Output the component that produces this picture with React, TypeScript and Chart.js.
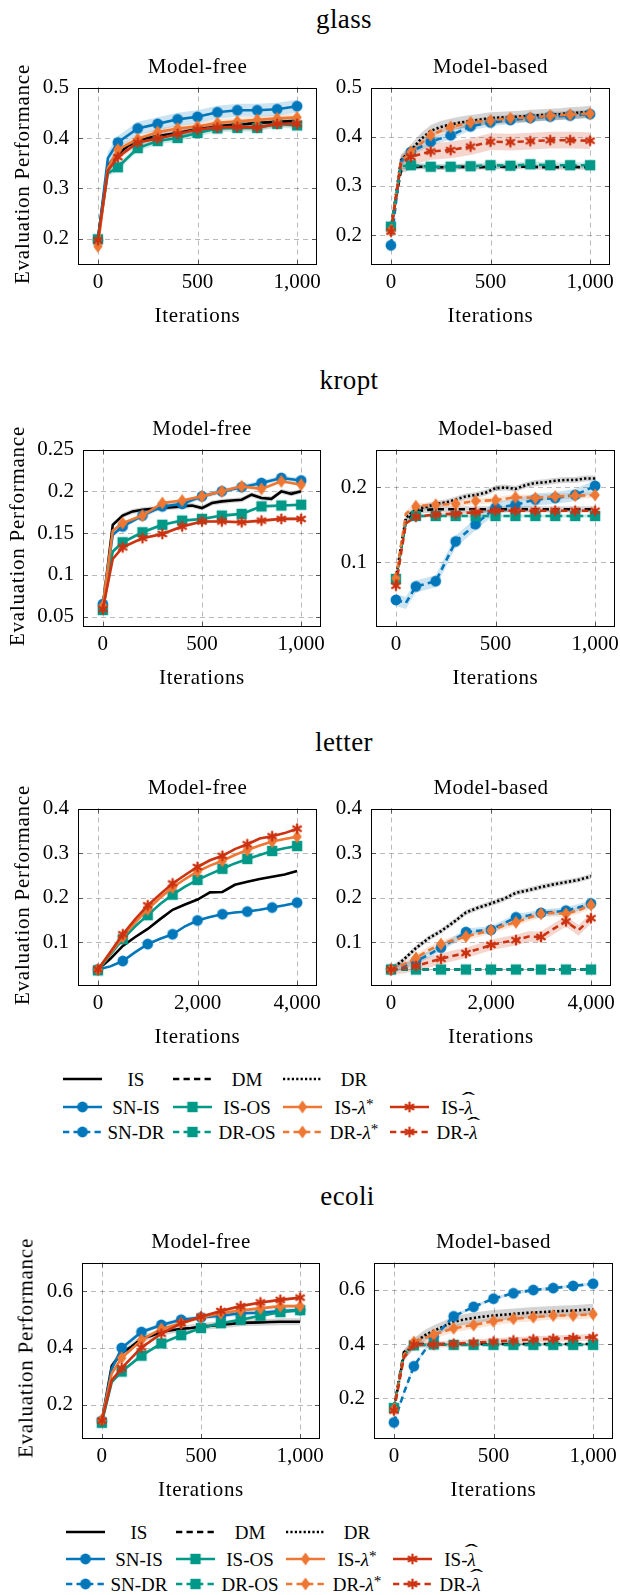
import React, { useEffect, useRef } from 'react';
import { Chart, registerables } from 'chart.js';

Chart.register(...registerables);

const FONT = "'Liberation Serif', 'DejaVu Serif', 'Times New Roman', serif";
Chart.defaults.font.family = FONT;
Chart.defaults.color = '#000';

// ---------------- text ----------------
const DATASET_NAMES = ['glass', 'kropt', 'letter', 'ecoli'];
const PANEL_TITLES = ['Model-free', 'Model-based'];
const X_TITLE = 'Iterations';
const Y_TITLE = 'Evaluation Performance';

// ---------------- x grids ----------------
const X_LINE_1K = [0, 50, 100, 150, 200, 250, 300, 350, 400, 450, 500, 550, 600, 650, 700, 750, 800, 850, 900, 950, 1000];
const X_MARK_1K = [0, 50, 100, 200, 300, 400, 500, 600, 700, 800, 900, 1000];
const X_4K = [0, 250, 500, 750, 1000, 1250, 1500, 1750, 2000, 2250, 2500, 2750, 3000, 3250, 3500, 3750, 4000];

const X_TICKS_1K = [0, 500, 1000];
const X_TICKS_4K = [0, 2000, 4000];

const Y_TICKS_GLASS = [0.2, 0.3, 0.4, 0.5];
const Y_TICKS_KROPT_MF = [0.05, 0.1, 0.15, 0.2, 0.25];
const Y_TICKS_KROPT_MB = [0.1, 0.2];
const Y_TICKS_LETTER = [0.1, 0.2, 0.3, 0.4];
const Y_TICKS_ECOLI = [0.2, 0.4, 0.6];

// ---------------- glass ----------------
const GLASS_MF_IS = [0.200, 0.345, 0.368, 0.384, 0.395, 0.400, 0.404, 0.407, 0.410, 0.414, 0.418, 0.420, 0.423, 0.425, 0.427, 0.428, 0.430, 0.431, 0.432, 0.433, 0.434];
const GLASS_MF_SNIS = [0.197, 0.360, 0.391, 0.419, 0.428, 0.437, 0.442, 0.451, 0.455, 0.455, 0.457, 0.463];
const GLASS_MF_ISOS = [0.199, 0.330, 0.342, 0.380, 0.394, 0.400, 0.410, 0.419, 0.420, 0.420, 0.428, 0.425];
const GLASS_MF_ISLS = [0.185, 0.340, 0.377, 0.398, 0.412, 0.419, 0.423, 0.430, 0.433, 0.436, 0.439, 0.441];
const GLASS_MF_ISLH = [0.197, 0.335, 0.362, 0.391, 0.399, 0.408, 0.417, 0.421, 0.422, 0.421, 0.428, 0.428];
const GLASS_MF_SD = [0.007, 0.013, 0.007, 0.007, 0.006];

const GLASS_MB_DM = [0.215, 0.330, 0.338, 0.339, 0.338, 0.338, 0.338, 0.339, 0.338, 0.338, 0.339, 0.339, 0.338, 0.339, 0.339, 0.338, 0.338, 0.338, 0.339, 0.338, 0.338];
const GLASS_MB_DR = [0.210, 0.352, 0.372, 0.395, 0.412, 0.420, 0.425, 0.429, 0.432, 0.435, 0.438, 0.439, 0.440, 0.441, 0.443, 0.444, 0.445, 0.446, 0.448, 0.449, 0.451];
const GLASS_MB_SNDR = [0.179, 0.350, 0.369, 0.390, 0.403, 0.421, 0.429, 0.434, 0.438, 0.441, 0.443, 0.446];
const GLASS_MB_DROS = [0.217, 0.340, 0.342, 0.339, 0.339, 0.340, 0.342, 0.341, 0.344, 0.342, 0.342, 0.342];
const GLASS_MB_DRLS = [0.209, 0.350, 0.369, 0.403, 0.420, 0.429, 0.433, 0.438, 0.439, 0.443, 0.445, 0.447];
const GLASS_MB_DRLH = [0.207, 0.345, 0.359, 0.370, 0.373, 0.380, 0.390, 0.389, 0.391, 0.393, 0.393, 0.392];
const GLASS_MB_SD = [0.005, 0.012, 0.008, 0.006, 0.008, 0.017];

// ---------------- kropt ----------------
const KROPT_MF_IS = [0.062, 0.160, 0.171, 0.176, 0.178, 0.179, 0.180, 0.181, 0.182, 0.183, 0.180, 0.186, 0.188, 0.189, 0.190, 0.196, 0.192, 0.191, 0.200, 0.197, 0.200];
const KROPT_MF_SNIS = [0.065, 0.148, 0.158, 0.171, 0.182, 0.185, 0.194, 0.200, 0.205, 0.210, 0.216, 0.213];
const KROPT_MF_ISOS = [0.058, 0.128, 0.139, 0.151, 0.160, 0.165, 0.167, 0.171, 0.173, 0.182, 0.183, 0.184];
const KROPT_MF_ISLS = [0.063, 0.153, 0.162, 0.171, 0.186, 0.189, 0.194, 0.200, 0.206, 0.203, 0.212, 0.208];
const KROPT_MF_ISLH = [0.059, 0.119, 0.133, 0.144, 0.149, 0.158, 0.164, 0.164, 0.163, 0.165, 0.167, 0.167];
const KROPT_MF_SD = [0.003, 0.003, 0.002, 0.002, 0.002];

const KROPT_MB_DM = [0.078, 0.155, 0.168, 0.170, 0.171, 0.171, 0.171, 0.171, 0.171, 0.171, 0.171, 0.171, 0.171, 0.171, 0.171, 0.171, 0.171, 0.171, 0.171, 0.171, 0.171];
const KROPT_MB_DR = [0.080, 0.160, 0.171, 0.174, 0.178, 0.180, 0.184, 0.188, 0.190, 0.193, 0.199, 0.200, 0.198, 0.203, 0.206, 0.207, 0.209, 0.210, 0.210, 0.212, 0.212];
const KROPT_MB_SNDR = [0.050, 0.046, 0.068, 0.075, 0.128, 0.151, 0.173, 0.177, 0.184, 0.186, 0.190, 0.202];
const KROPT_MB_DROS = [0.078, 0.155, 0.162, 0.162, 0.162, 0.162, 0.162, 0.162, 0.162, 0.162, 0.162, 0.162];
const KROPT_MB_DRLS = [0.079, 0.165, 0.175, 0.177, 0.178, 0.182, 0.183, 0.187, 0.186, 0.188, 0.189, 0.190];
const KROPT_MB_DRLH = [0.069, 0.152, 0.161, 0.164, 0.165, 0.167, 0.169, 0.169, 0.169, 0.169, 0.169, 0.169];
const KROPT_MB_SD = [0.004, 0.004, 0.008, 0.002, 0.004, 0.002];

// ---------------- letter ----------------
const LETTER_MF_IS = [0.039, 0.063, 0.092, 0.112, 0.130, 0.152, 0.173, 0.185, 0.196, 0.212, 0.213, 0.229, 0.236, 0.242, 0.247, 0.252, 0.260];
const LETTER_MF_SNIS = [0.039, 0.046, 0.058, 0.078, 0.096, 0.108, 0.118, 0.136, 0.149, 0.157, 0.163, 0.167, 0.169, 0.173, 0.178, 0.183, 0.189];
const LETTER_MF_ISOS = [0.037, 0.072, 0.107, 0.136, 0.161, 0.186, 0.207, 0.225, 0.240, 0.253, 0.265, 0.277, 0.287, 0.296, 0.305, 0.311, 0.316];
const LETTER_MF_ISLS = [0.039, 0.075, 0.112, 0.145, 0.174, 0.200, 0.223, 0.242, 0.259, 0.272, 0.283, 0.296, 0.307, 0.317, 0.326, 0.332, 0.337];
const LETTER_MF_ISLH = [0.039, 0.078, 0.118, 0.152, 0.183, 0.208, 0.232, 0.251, 0.269, 0.284, 0.294, 0.309, 0.320, 0.333, 0.338, 0.345, 0.355];
const LETTER_MF_SD = [0.002, 0.002, 0.002, 0.002, 0.002];

const LETTER_MB_DM = [0.039, 0.039, 0.039, 0.039, 0.039, 0.039, 0.039, 0.039, 0.039, 0.039, 0.039, 0.039, 0.039, 0.039, 0.039, 0.039, 0.039];
const LETTER_MB_DR = [0.039, 0.061, 0.087, 0.109, 0.125, 0.145, 0.167, 0.178, 0.187, 0.197, 0.211, 0.217, 0.224, 0.230, 0.235, 0.240, 0.248];
const LETTER_MB_SNDR = [0.039, 0.046, 0.058, 0.072, 0.088, 0.105, 0.123, 0.126, 0.128, 0.142, 0.156, 0.160, 0.166, 0.168, 0.171, 0.178, 0.187];
const LETTER_MB_DROS = [0.039, 0.039, 0.039, 0.039, 0.039, 0.039, 0.039, 0.039, 0.039, 0.039, 0.039, 0.039, 0.039, 0.039, 0.039, 0.039, 0.039];
const LETTER_MB_DRLS = [0.039, 0.050, 0.065, 0.082, 0.096, 0.105, 0.113, 0.120, 0.127, 0.137, 0.145, 0.155, 0.164, 0.166, 0.164, 0.172, 0.184];
const LETTER_MB_DRLH = [0.039, 0.042, 0.047, 0.055, 0.063, 0.070, 0.076, 0.085, 0.094, 0.100, 0.105, 0.113, 0.112, 0.130, 0.147, 0.127, 0.154];
const LETTER_MB_SD = [0.001, 0.006, 0.008, 0.001, 0.008, 0.012];

// ---------------- ecoli ----------------
const ECOLI_MF_IS = [0.144, 0.337, 0.382, 0.405, 0.433, 0.443, 0.456, 0.462, 0.467, 0.470, 0.475, 0.478, 0.482, 0.484, 0.488, 0.489, 0.490, 0.491, 0.492, 0.492, 0.492];
const ECOLI_MF_SNIS = [0.144, 0.326, 0.400, 0.456, 0.481, 0.499, 0.507, 0.513, 0.522, 0.524, 0.530, 0.533];
const ECOLI_MF_ISOS = [0.137, 0.280, 0.317, 0.373, 0.416, 0.445, 0.470, 0.487, 0.499, 0.513, 0.526, 0.533];
const ECOLI_MF_ISLS = [0.147, 0.310, 0.365, 0.428, 0.467, 0.487, 0.507, 0.522, 0.532, 0.539, 0.547, 0.547];
const ECOLI_MF_ISLH = [0.144, 0.286, 0.329, 0.402, 0.450, 0.487, 0.510, 0.530, 0.547, 0.560, 0.569, 0.577];
const ECOLI_MF_SD = [0.012, 0.008, 0.006, 0.006, 0.005];

const ECOLI_MB_DM = [0.164, 0.370, 0.400, 0.400, 0.400, 0.400, 0.400, 0.400, 0.400, 0.400, 0.400, 0.400, 0.400, 0.400, 0.400, 0.400, 0.400, 0.400, 0.400, 0.400, 0.400];
const ECOLI_MB_DR = [0.160, 0.360, 0.401, 0.430, 0.449, 0.465, 0.482, 0.490, 0.496, 0.501, 0.505, 0.508, 0.511, 0.514, 0.516, 0.518, 0.520, 0.522, 0.523, 0.526, 0.528];
const ECOLI_MB_SNDR = [0.111, 0.220, 0.318, 0.425, 0.502, 0.537, 0.567, 0.587, 0.599, 0.606, 0.614, 0.622];
const ECOLI_MB_DROS = [0.164, 0.360, 0.395, 0.398, 0.397, 0.397, 0.397, 0.397, 0.397, 0.397, 0.397, 0.397];
const ECOLI_MB_DRLS = [0.159, 0.360, 0.407, 0.434, 0.458, 0.470, 0.484, 0.493, 0.499, 0.505, 0.505, 0.510];
const ECOLI_MB_DRLH = [0.155, 0.350, 0.398, 0.398, 0.401, 0.405, 0.409, 0.413, 0.417, 0.419, 0.422, 0.425];
const ECOLI_MB_SD = [0.004, 0.020, 0.006, 0.005, 0.015, 0.012];

// ---------------- styles ----------------
const BLUE = '#0077BB';
const TEAL = '#009988';
const ORANGE = '#EE7733';
const RED = '#CC3311';
const DASHED = [6.3, 4.2];
const DOTTED = [2.2, 2.2];
const LW = 2.6;

type Key = 'IS' | 'DM' | 'DR' | 'SNIS' | 'SNDR' | 'ISOS' | 'DROS' | 'ISLS' | 'DRLS' | 'ISLH' | 'DRLH';

const STYLE: Record<Key, { color: string; band: string; dash: number[]; marker: string | null }> = {
  IS: { color: '#000', band: 'rgba(0,0,0,0.17)', dash: [], marker: null },
  DM: { color: '#000', band: 'rgba(0,0,0,0.17)', dash: DASHED, marker: null },
  DR: { color: '#000', band: 'rgba(0,0,0,0.17)', dash: DOTTED, marker: null },
  SNIS: { color: BLUE, band: 'rgba(0,119,187,0.2)', dash: [], marker: 'circle' },
  SNDR: { color: BLUE, band: 'rgba(0,119,187,0.2)', dash: DASHED, marker: 'circle' },
  ISOS: { color: TEAL, band: 'rgba(0,153,136,0.2)', dash: [], marker: 'square' },
  DROS: { color: TEAL, band: 'rgba(0,153,136,0.2)', dash: DASHED, marker: 'square' },
  ISLS: { color: ORANGE, band: 'rgba(238,119,51,0.2)', dash: [], marker: 'diamond' },
  DRLS: { color: ORANGE, band: 'rgba(238,119,51,0.2)', dash: DASHED, marker: 'diamond' },
  ISLH: { color: RED, band: 'rgba(204,51,17,0.2)', dash: [], marker: 'asterisk' },
  DRLH: { color: RED, band: 'rgba(204,51,17,0.2)', dash: DASHED, marker: 'asterisk' },
};

const LABELS: Record<Key, string> = {
  IS: 'IS', DM: 'DM', DR: 'DR', SNIS: 'SN-IS', SNDR: 'SN-DR', ISOS: 'IS-OS', DROS: 'DR-OS',
  ISLS: 'IS-λ*', DRLS: 'DR-λ*', ISLH: 'IS-λ\u0302', DRLH: 'DR-λ\u0302',
};

const LEGEND_ROWS: Key[][] = [
  ['IS', 'DM', 'DR'],
  ['SNIS', 'ISOS', 'ISLS', 'ISLH'],
  ['SNDR', 'DROS', 'DRLS', 'DRLH'],
];

type Series = [Key, number[], number[], number];

const mf = (is: number[], snis: number[], isos: number[], isls: number[], islh: number[], sd: number[], xl: number[], xm: number[]): Series[] => [
  ['IS', xl, is, sd[0]], ['SNIS', xm, snis, sd[1]], ['ISOS', xm, isos, sd[2]], ['ISLS', xm, isls, sd[3]], ['ISLH', xm, islh, sd[4]],
];
const mb = (dm: number[], dr: number[], sndr: number[], dros: number[], drls: number[], drlh: number[], sd: number[], xl: number[], xm: number[]): Series[] => [
  ['DM', xl, dm, sd[0]], ['DR', xl, dr, sd[1]], ['SNDR', xm, sndr, sd[2]], ['DROS', xm, dros, sd[3]], ['DRLS', xm, drls, sd[4]], ['DRLH', xm, drlh, sd[5]],
];

const PANELS = [
  { x: [-100, 1100], xt: X_TICKS_1K, y: [0.148, 0.5], yt: Y_TICKS_GLASS, step: 100, series: mf(GLASS_MF_IS, GLASS_MF_SNIS, GLASS_MF_ISOS, GLASS_MF_ISLS, GLASS_MF_ISLH, GLASS_MF_SD, X_LINE_1K, X_MARK_1K) },
  { x: [-100, 1100], xt: X_TICKS_1K, y: [0.139, 0.5], yt: Y_TICKS_GLASS, step: 100, series: mb(GLASS_MB_DM, GLASS_MB_DR, GLASS_MB_SNDR, GLASS_MB_DROS, GLASS_MB_DRLS, GLASS_MB_DRLH, GLASS_MB_SD, X_LINE_1K, X_MARK_1K) },
  { x: [-100, 1100], xt: X_TICKS_1K, y: [0.0376, 0.25], yt: Y_TICKS_KROPT_MF, step: 100, series: mf(KROPT_MF_IS, KROPT_MF_SNIS, KROPT_MF_ISOS, KROPT_MF_ISLS, KROPT_MF_ISLH, KROPT_MF_SD, X_LINE_1K, X_MARK_1K) },
  { x: [-100, 1100], xt: X_TICKS_1K, y: [0.014, 0.2505], yt: Y_TICKS_KROPT_MB, step: 100, series: mb(KROPT_MB_DM, KROPT_MB_DR, KROPT_MB_SNDR, KROPT_MB_DROS, KROPT_MB_DRLS, KROPT_MB_DRLH, KROPT_MB_SD, X_LINE_1K, X_MARK_1K) },
  { x: [-400, 4400], xt: X_TICKS_4K, y: [0.002, 0.4], yt: Y_TICKS_LETTER, step: 500, series: mf(LETTER_MF_IS, LETTER_MF_SNIS, LETTER_MF_ISOS, LETTER_MF_ISLS, LETTER_MF_ISLH, LETTER_MF_SD, X_4K, X_4K) },
  { x: [-400, 4400], xt: X_TICKS_4K, y: [0.002, 0.4], yt: Y_TICKS_LETTER, step: 500, series: mb(LETTER_MB_DM, LETTER_MB_DR, LETTER_MB_SNDR, LETTER_MB_DROS, LETTER_MB_DRLS, LETTER_MB_DRLH, LETTER_MB_SD, X_4K, X_4K) },
  { x: [-100, 1100], xt: X_TICKS_1K, y: [0.08, 0.7], yt: Y_TICKS_ECOLI, step: 100, series: mf(ECOLI_MF_IS, ECOLI_MF_SNIS, ECOLI_MF_ISOS, ECOLI_MF_ISLS, ECOLI_MF_ISLH, ECOLI_MF_SD, X_LINE_1K, X_MARK_1K) },
  { x: [-100, 1100], xt: X_TICKS_1K, y: [0.05, 0.7], yt: Y_TICKS_ECOLI, step: 100, series: mb(ECOLI_MB_DM, ECOLI_MB_DR, ECOLI_MB_SNDR, ECOLI_MB_DROS, ECOLI_MB_DRLS, ECOLI_MB_DRLH, ECOLI_MB_SD, X_LINE_1K, X_MARK_1K) },
];

// ---------------- layout (page px) ----------------
const RECTS = [
  [78, 82, 239, 183], [371, 82, 239, 183],
  [83, 444, 238, 183], [376, 444, 239, 183],
  [78, 803, 239, 183], [371, 803, 240, 183],
  [82, 1257, 238, 182], [374, 1257, 239, 182],
];
const TITLE_POS = [[344, 19], [349, 380], [344, 742], [347.5, 1196]];
const YLABEL_X = [22, 17, 22, 26];
const LEGEND_POS = [
  { x0: 63, rows: [1079, 1107, 1132] },
  { x0: 66, rows: [1532, 1559, 1584] },
];
const LEGEND_COL_LINE = [0, 110, 220, 327];
const LEGEND_COL_TEXT = [73, 184, 291, 394];

const PADL = 70, PADT = 16, PADR = 30, PADB = 40;

// ---------------- markers ----------------
function makeMarker(kind: string, color: string): HTMLCanvasElement {
  const c = document.createElement('canvas');
  const s = 16;
  c.width = s; c.height = s;
  const g = c.getContext('2d')!;
  g.fillStyle = color; g.strokeStyle = color;
  const m = s / 2;
  if (kind === 'circle') {
    g.beginPath(); g.arc(m, m, 5.4, 0, Math.PI * 2); g.fill();
  } else if (kind === 'square') {
    g.fillRect(m - 5.2, m - 5.2, 10.4, 10.4);
  } else if (kind === 'diamond') {
    g.beginPath(); g.moveTo(m, m - 6.6); g.lineTo(m + 4.7, m); g.lineTo(m, m + 6.6); g.lineTo(m - 4.7, m); g.closePath(); g.fill();
  } else if (kind === 'asterisk') {
    g.lineWidth = 2.3; g.lineCap = 'round';
    for (const a of [90, 30, 150]) {
      const r = (a * Math.PI) / 180;
      const dx = Math.cos(r) * 4.4, dy = Math.sin(r) * 4.4;
      g.beginPath(); g.moveTo(m - dx, m - dy); g.lineTo(m + dx, m + dy); g.stroke();
    }
  }
  return c;
}

const framePlugin = {
  id: 'pgfFrame',
  beforeDatasetsDraw(chart: any) {
    const { ctx, chartArea: a, scales } = chart;
    ctx.save();
    ctx.strokeStyle = 'rgba(0,0,0,0.27)';
    ctx.lineWidth = 1;
    ctx.setLineDash([5, 4]);
    scales.x.ticks.forEach((t: any) => {
      const p = Math.round(scales.x.getPixelForValue(t.value)) + 0.5;
      ctx.beginPath(); ctx.moveTo(p, a.top); ctx.lineTo(p, a.bottom); ctx.stroke();
    });
    scales.y.ticks.forEach((t: any) => {
      const p = Math.round(scales.y.getPixelForValue(t.value)) + 0.5;
      ctx.beginPath(); ctx.moveTo(a.left, p); ctx.lineTo(a.right, p); ctx.stroke();
    });
    ctx.restore();
  },
  afterDatasetsDraw(chart: any) {
    const { ctx, chartArea: a, scales } = chart;
    ctx.save();
    ctx.setLineDash([]);
    ctx.strokeStyle = '#555';
    ctx.lineWidth = 1;
    const TL = 5;
    scales.x.ticks.forEach((t: any) => {
      const p = Math.round(scales.x.getPixelForValue(t.value)) + 0.5;
      ctx.beginPath(); ctx.moveTo(p, a.bottom); ctx.lineTo(p, a.bottom - TL); ctx.stroke();
      ctx.beginPath(); ctx.moveTo(p, a.top); ctx.lineTo(p, a.top + TL); ctx.stroke();
    });
    scales.y.ticks.forEach((t: any) => {
      const p = Math.round(scales.y.getPixelForValue(t.value)) + 0.5;
      ctx.beginPath(); ctx.moveTo(a.left, p); ctx.lineTo(a.left + TL, p); ctx.stroke();
      ctx.beginPath(); ctx.moveTo(a.right, p); ctx.lineTo(a.right - TL, p); ctx.stroke();
    });
    ctx.strokeStyle = '#000';
    ctx.strokeRect(Math.round(a.left) + 0.5, Math.round(a.top) + 0.5, Math.round(a.right - a.left) - 1, Math.round(a.bottom - a.top) - 1);
    ctx.restore();
  },
};

const fmtY = (v: number) => String(+v.toFixed(3));
const fmtX = (v: number) => v.toLocaleString('en-US');

function Plot({ idx }: { idx: number }) {
  const ref = useRef<HTMLCanvasElement>(null);
  const [L, T, W, H] = RECTS[idx];
  const panel = PANELS[idx];
  useEffect(() => {
    const canvas = ref.current!;
    const datasets: any[] = [];
    panel.series.forEach(([key, xs, ys, sd], i) => {
      const st = STYLE[key];
      datasets.push({ data: xs.map((x, j) => ({ x, y: ys[j] + sd })), borderWidth: 0, borderColor: 'transparent', pointRadius: 0, fill: false, order: 1000 + i });
      datasets.push({ data: xs.map((x, j) => ({ x, y: ys[j] - sd })), borderWidth: 0, borderColor: 'transparent', pointRadius: 0, fill: '-1', backgroundColor: st.band, order: 1000 + i });
    });
    panel.series.forEach(([key, xs, ys], i) => {
      const st = STYLE[key];
      const mk = st.marker ? makeMarker(st.marker, st.color) : null;
      datasets.push({
        data: xs.map((x, j) => ({ x, y: ys[j] })),
        borderColor: st.color,
        borderWidth: LW,
        borderDash: st.dash,
        fill: false,
        tension: 0,
        pointStyle: mk || false,
        pointRadius: mk ? (c: any) => (c.raw && c.raw.x % panel.step === 0 ? 5 : 0) : 0,
        order: 100 - i,
      });
    });
    const chart = new Chart(canvas, {
      type: 'line',
      data: { datasets },
      options: {
        responsive: false,
        animation: false,
        devicePixelRatio: 1,
        events: [],
        layout: { padding: { left: 0, top: PADT, right: PADR, bottom: 0 } },
        plugins: { legend: { display: false }, tooltip: { enabled: false }, title: { display: false } },
        scales: {
          x: {
            type: 'linear', min: panel.x[0], max: panel.x[1],
            grid: { display: false, drawTicks: false }, border: { display: false },
            ticks: { padding: 5, font: { size: 21 }, color: '#000', maxRotation: 0, autoSkip: false, callback: (v: any) => fmtX(Number(v)) },
            afterBuildTicks: (s: any) => { s.ticks = panel.xt.map((v) => ({ value: v })); },
            afterFit: (s: any) => { s.height = PADB; },
          },
          y: {
            type: 'linear', min: panel.y[0], max: panel.y[1],
            grid: { display: false, drawTicks: false }, border: { display: false },
            ticks: { padding: 9, font: { size: 21 }, color: '#000', autoSkip: false, callback: (v: any) => fmtY(Number(v)) },
            afterBuildTicks: (s: any) => { s.ticks = panel.yt.map((v) => ({ value: v })); },
            afterFit: (s: any) => { s.width = PADL; },
          },
        },
      } as any,
      plugins: [framePlugin],
    });
    return () => chart.destroy();
  }, []);
  return (
    <canvas
      ref={ref}
      width={W + PADL + PADR}
      height={H + PADT + PADB}
      style={{ position: 'absolute', left: L - PADL, top: T - PADT, width: W + PADL + PADR, height: H + PADT + PADB }}
    />
  );
}

function Txt({ x, y, size, rotate, spacing, children }: any) {
  return (
    <div
      style={{
        position: 'absolute', left: x, top: y,
        transform: `translate(-50%, -50%)${rotate ? ' rotate(-90deg)' : ''}`,
        fontSize: size, fontFamily: FONT, lineHeight: 1, whiteSpace: 'nowrap', color: '#000',
        letterSpacing: spacing || 0,
      }}
    >
      {children}
    </div>
  );
}

function renderLabel(s: string) {
  if (s.endsWith('λ*')) {
    return (
      <>
        {s.slice(0, -2)}
        <i>λ</i>
        <span style={{ fontSize: '0.8em', position: 'relative', top: '-0.3em' }}>*</span>
      </>
    );
  }
  if (s.endsWith('λ\u0302')) {
    return (
      <>
        {s.slice(0, -2)}
        <span style={{ position: 'relative', display: 'inline-block' }}>
          <i>λ</i>
          <span style={{ position: 'absolute', left: '50%', top: '-0.42em', transform: 'translateX(-50%) scaleX(2.2)', fontSize: '0.95em' }}>ˆ</span>
        </span>
      </>
    );
  }
  return s;
}

function Sample({ k, x, y }: { k: Key; x: number; y: number }) {
  const ref = useRef<HTMLCanvasElement>(null);
  useEffect(() => {
    const c = ref.current!;
    const g = c.getContext('2d')!;
    g.clearRect(0, 0, c.width, c.height);
    const st = STYLE[k];
    g.strokeStyle = st.color;
    g.lineWidth = LW;
    g.setLineDash(st.dash);
    g.beginPath(); g.moveTo(0, 8); g.lineTo(39, 8); g.stroke();
    if (st.marker) g.drawImage(makeMarker(st.marker, st.color), 19.5 - 8, 0);
  }, []);
  return <canvas ref={ref} width={40} height={16} style={{ position: 'absolute', left: x, top: y - 8 }} />;
}

function Legend({ pos }: { pos: { x0: number; rows: number[] } }) {
  const items: any[] = [];
  LEGEND_ROWS.forEach((row, r) => {
    row.forEach((k, c) => {
      items.push(<Sample key={`s${r}${c}`} k={k} x={pos.x0 + LEGEND_COL_LINE[c]} y={pos.rows[r]} />);
      items.push(
        <Txt key={`t${r}${c}`} x={pos.x0 + LEGEND_COL_TEXT[c]} y={pos.rows[r]} size={19}>
          {renderLabel(LABELS[k])}
        </Txt>
      );
    });
  });
  return <>{items}</>;
}

export default function App() {
  const texts: any[] = [];
  DATASET_NAMES.forEach((name, d) => {
    texts.push(<Txt key={`n${d}`} x={TITLE_POS[d][0]} y={TITLE_POS[d][1]} size={27} spacing="0.4px">{name}</Txt>);
    for (let p = 0; p < 2; p++) {
      const [L, T, W, H] = RECTS[d * 2 + p];
      texts.push(<Txt key={`p${d}${p}`} x={L + W / 2} y={T - 16} size={21} spacing="0.5px">{PANEL_TITLES[p]}</Txt>);
      texts.push(<Txt key={`x${d}${p}`} x={L + W / 2} y={T + H + 50} size={21} spacing="0.65px">{X_TITLE}</Txt>);
    }
    const [, T0, , H0] = RECTS[d * 2];
    texts.push(<Txt key={`y${d}`} x={YLABEL_X[d]} y={T0 + H0 / 2} size={21} spacing="0.75px" rotate>{Y_TITLE}</Txt>);
  });
  return (
    <div style={{ position: 'absolute', left: 0, top: 0, width: 620, height: 1595, overflow: 'hidden', background: '#fff' }}>
      {PANELS.map((_, i) => <Plot key={i} idx={i} />)}
      {texts}
      {LEGEND_POS.map((pos, i) => <Legend key={`l${i}`} pos={pos} />)}
    </div>
  );
}
